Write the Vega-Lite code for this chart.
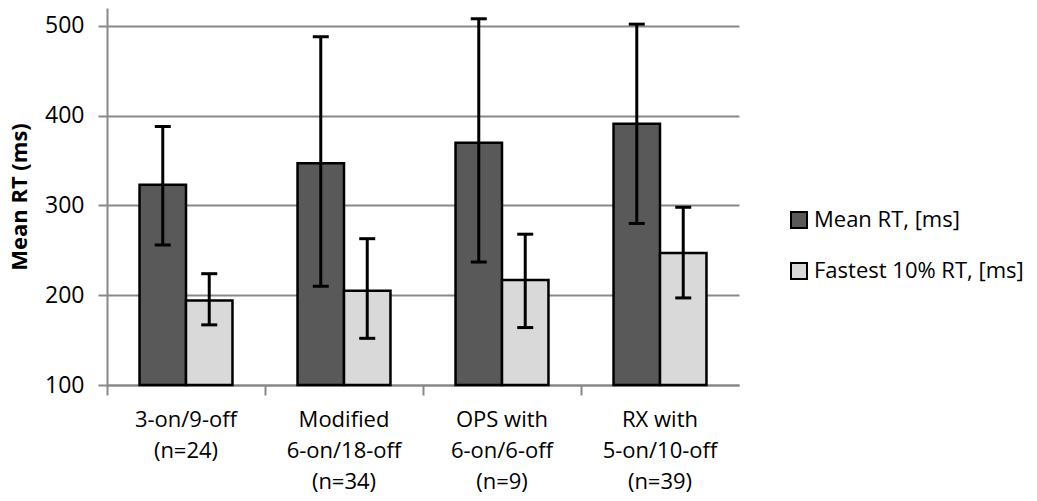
{
  "$schema": "https://vega.github.io/schema/vega-lite/v6.json",
  "width": 632,
  "height": 377,
  "autosize": {"type": "none"},
  "padding": {"left": 107, "top": 8, "right": 298, "bottom": 116},
  "background": "white",
  "config": {
    "font": "Open Sans",
    "view": {"stroke": null},
    "axis": {"labelFont": "Open Sans", "titleFont": "Open Sans"}
  },
  "data": {
    "values": [
      {"group": "3-on/9-off|(n=24)", "series": "Mean RT, [ms]", "value": 323, "lo": 256, "hi": 388},
      {"group": "3-on/9-off|(n=24)", "series": "Fastest 10% RT, [ms]", "value": 194, "lo": 167, "hi": 224},
      {"group": "Modified|6-on/18-off|(n=34)", "series": "Mean RT, [ms]", "value": 347, "lo": 210, "hi": 488},
      {"group": "Modified|6-on/18-off|(n=34)", "series": "Fastest 10% RT, [ms]", "value": 205, "lo": 152, "hi": 263},
      {"group": "OPS with|6-on/6-off|(n=9)", "series": "Mean RT, [ms]", "value": 370, "lo": 237, "hi": 508},
      {"group": "OPS with|6-on/6-off|(n=9)", "series": "Fastest 10% RT, [ms]", "value": 217, "lo": 164, "hi": 268},
      {"group": "RX with|5-on/10-off|(n=39)", "series": "Mean RT, [ms]", "value": 391, "lo": 280, "hi": 502},
      {"group": "RX with|5-on/10-off|(n=39)", "series": "Fastest 10% RT, [ms]", "value": 247, "lo": 197, "hi": 298}
    ]
  },
  "encoding": {
    "x": {
      "field": "group",
      "type": "nominal",
      "sort": null,
      "scale": {"paddingInner": 0, "paddingOuter": 0},
      "axis": {
        "title": null,
        "labelAngle": 0,
        "labelExpr": "split(datum.label, '|')",
        "labelFontSize": 22,
        "labelColor": "#000",
        "labelLineHeight": 31,
        "labelPadding": 14,
        "labelBaseline": "top",
        "labelLimit": 0,
        "bandPosition": 0,
        "tickSize": 10,
        "tickColor": "#888",
        "tickWidth": 2,
        "domainColor": "#888",
        "domainWidth": 2,
        "grid": false
      }
    },
    "xOffset": {
      "field": "series",
      "type": "nominal",
      "sort": ["Mean RT, [ms]", "Fastest 10% RT, [ms]"],
      "scale": {"paddingInner": 0, "paddingOuter": 0.7}
    }
  },
  "layer": [
    {
      "mark": {"type": "bar", "stroke": "black", "strokeWidth": 2.5},
      "encoding": {
        "y": {
          "field": "value",
          "type": "quantitative",
          "scale": {"domain": [100, 520], "nice": false, "zero": false},
          "axis": {
            "title": "Mean RT (ms)",
            "titleFontSize": 22,
            "titleFontWeight": "bold",
            "titleColor": "#000",
            "titlePadding": 13,
            "values": [100, 200, 300, 400, 500],
            "labelFontSize": 23,
            "labelColor": "#000",
            "labelPadding": 14,
            "tickSize": 9,
            "tickColor": "#888",
            "tickWidth": 2,
            "domainColor": "#888",
            "domainWidth": 2,
            "gridColor": "#888",
            "gridWidth": 2
          }
        },
        "y2": {"datum": 100},
        "color": {
          "field": "series",
          "type": "nominal",
          "sort": ["Mean RT, [ms]", "Fastest 10% RT, [ms]"],
          "scale": {"domain": ["Mean RT, [ms]", "Fastest 10% RT, [ms]"], "range": ["#595959", "#d9d9d9"]},
          "legend": {
            "title": null,
            "orient": "none",
            "legendX": 681,
            "legendY": 201,
            "symbolType": "square",
            "symbolSize": 256,
            "symbolStrokeColor": "black",
            "symbolStrokeWidth": 2,
            "symbolOpacity": 1,
            "labelFontSize": 22,
            "labelLimit": 0,
            "labelColor": "#000",
            "labelOffset": 4,
            "rowPadding": 27
          }
        }
      }
    },
    {
      "mark": {"type": "rule", "color": "black", "strokeWidth": 3},
      "encoding": {
        "y": {"field": "lo", "type": "quantitative"},
        "y2": {"field": "hi"}
      }
    },
    {
      "mark": {"type": "tick", "color": "black", "thickness": 3, "size": 16, "opacity": 1},
      "encoding": {"y": {"field": "hi", "type": "quantitative"}}
    },
    {
      "mark": {"type": "tick", "color": "black", "thickness": 3, "size": 16, "opacity": 1},
      "encoding": {"y": {"field": "lo", "type": "quantitative"}}
    }
  ]
}
